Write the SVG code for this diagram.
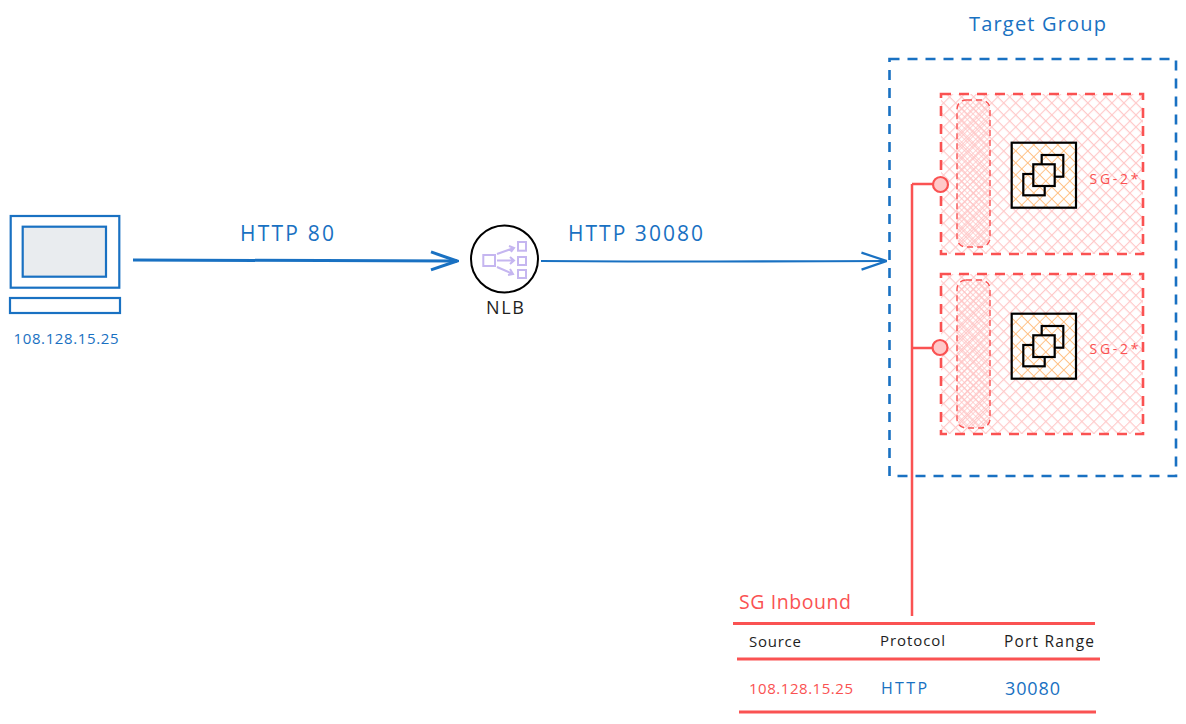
<svg xmlns="http://www.w3.org/2000/svg" width="1186" height="724" viewBox="0 0 1186 724">
<style>
text{font-family:"Open Sans","Liberation Sans",sans-serif;dominant-baseline:central}
.b{fill:#1971c2}.r{fill:#fa5252}.k{fill:#1e1e1e}
.blue{fill:none;stroke:#1971c2;stroke-width:2.200}
.red{fill:none;stroke:#fa5252;stroke-width:2.500}
.redb{stroke:#fa5252;stroke-width:2.600;stroke-dasharray:10 8}
.ink{fill:none;stroke:#000;stroke-width:2.200}
.lav{fill:none;stroke:#c5b6f0;stroke-width:2}
</style>
<defs>
<pattern id="hr" width="8.500" height="8.500" patternUnits="userSpaceOnUse" patternTransform="rotate(45)"><path d="M0 0H8.500M0 0V8.500" stroke="#ffc9c9" stroke-width="2.200"/></pattern>
<pattern id="hp" width="4" height="4" patternUnits="userSpaceOnUse" patternTransform="rotate(45)"><path d="M0 0H4M0 0V4" stroke="#ffc4c4" stroke-width="1.500"/></pattern>
<pattern id="ho" width="8.500" height="8.500" patternUnits="userSpaceOnUse" patternTransform="rotate(45)"><rect width="8.500" height="8.500" fill="#fff"/><path d="M0 0H8.500M0 0V8.500" stroke="#ffbe80" stroke-width="1.800"/></pattern>
<marker id="ab" viewBox="0 0 28 20" refX="27" refY="10" markerWidth="28" markerHeight="20" markerUnits="userSpaceOnUse" orient="auto"><path d="M2 1.500L27 10L2 18.500" fill="none" stroke="#1971c2" stroke-width="2.200"/></marker>
<marker id="ab2" viewBox="0 0 30 22" refX="28" refY="11" markerWidth="30" markerHeight="22" markerUnits="userSpaceOnUse" orient="auto"><path d="M2 2L28 11L2 20" fill="none" stroke="#1971c2" stroke-width="3"/></marker>
<g id="ec2"><rect x="1011.700" y="142.700" width="64.300" height="65" fill="url(#ho)" stroke="#000" stroke-width="2.200"/><rect x="1041.700" y="155" width="21.600" height="21.700" class="ink"/><rect x="1023.300" y="174" width="21.400" height="21.300" class="ink"/><rect x="1033.300" y="164.300" width="21.400" height="21.700" fill="url(#ho)" stroke="#000" stroke-width="2.200"/></g>
</defs>
<g id="connectors">
<path d="M133 260L457 261" fill="none" stroke="#1971c2" stroke-width="3" marker-end="url(#ab2)"/>
<path d="M541 261Q715 262 886.500 261" class="blue" marker-end="url(#ab)"/>
<path d="M912 184V616M912 184H933M912 348H932" class="red"/>
</g>
<g id="client">
<rect x="10.700" y="216" width="108.600" height="71.700" class="blue"/>
<rect x="22.700" y="226.700" width="83.300" height="50" fill="#e9ecef" stroke="#1971c2" stroke-width="2.200"/>
<rect x="10" y="298" width="110" height="15" class="blue"/>
<text x="66" y="338" text-anchor="middle" font-size="15" class="b" textLength="105">108.128.15.25</text>
</g>
<text id="label-http-80" x="287" y="233" text-anchor="middle" font-size="21" class="b" textLength="94">HTTP 80</text>
<text id="label-http-30080" x="635.500" y="233" text-anchor="middle" font-size="21" class="b" textLength="135">HTTP 30080</text>
<g id="nlb">
<circle cx="504.500" cy="259" r="33.500" fill="#fff" stroke="#000" stroke-width="2"/>
<rect x="483.300" y="255" width="11.700" height="11" class="lav"/>
<rect x="518" y="242" width="8" height="8.700" class="lav"/>
<rect x="518" y="257" width="8" height="8" class="lav"/>
<rect x="518" y="270" width="8" height="8" class="lav"/>
<path d="M497 254L514 248M509 246L514 248L511 252M497 260.500H514M510 257L514 260.500L510 264M497 267L513 274M510 269L513 274L508 275" class="lav"/>
<text x="505" y="307" text-anchor="middle" font-size="18" class="k" textLength="38">NLB</text>
</g>
<g id="target-group">
<rect x="889.500" y="59" width="286.500" height="417" fill="none" stroke="#1971c2" stroke-width="2.600" stroke-dasharray="10 8"/>
<text x="1037.500" y="23" text-anchor="middle" font-size="20" class="b" textLength="137">Target Group</text>
</g>
<g id="instance-1">
<rect x="941" y="94" width="202" height="160" fill="url(#hr)" class="redb"/>
<rect x="957" y="100" width="33" height="147" rx="9" fill="url(#hp)" stroke="#fa5252" stroke-width="1.400" stroke-dasharray="6 4"/>
<use href="#ec2"/>
<text x="1114" y="178" text-anchor="middle" font-size="14" class="r" textLength="49">SG-2*</text>
</g>
<g id="instance-2">
<rect x="941" y="274" width="202" height="160" fill="url(#hr)" class="redb"/>
<rect x="957" y="280" width="33" height="148" rx="9" fill="url(#hp)" stroke="#fa5252" stroke-width="1.400" stroke-dasharray="6 4"/>
<use href="#ec2" y="171"/>
<text x="1114" y="348" text-anchor="middle" font-size="14" class="r" textLength="49">SG-2*</text>
</g>
<g id="eni-1"><circle cx="940.500" cy="184.500" r="7.500" fill="#ffc9c9" stroke="#fa5252" stroke-width="2.200"/></g>
<g id="eni-2"><circle cx="940" cy="347.500" r="7.500" fill="#ffc9c9" stroke="#fa5252" stroke-width="2.200"/></g>
<g id="sg-table">
<text x="739" y="601" font-size="19.500" class="r" textLength="112">SG Inbound</text>
<path d="M733 623.500H1095M737 659H1100M739 712H1096" class="red" style="stroke-width:3"/>
<text x="749" y="641" font-size="15" class="k" textLength="52">Source</text>
<text x="880" y="640" font-size="15" class="k" textLength="65">Protocol</text>
<text x="1004" y="641" font-size="15.500" class="k" textLength="90">Port Range</text>
<text x="749" y="688" font-size="15" class="r" textLength="104">108.128.15.25</text>
<text x="881" y="688" font-size="16" class="b" textLength="46">HTTP</text>
<text x="1005" y="688" font-size="18" class="b" textLength="55">30080</text>
</g>
</svg>
